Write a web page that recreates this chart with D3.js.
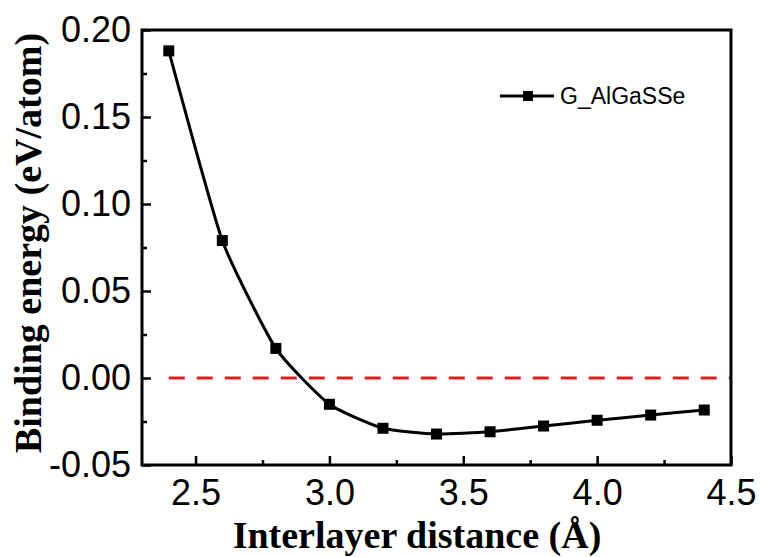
<!DOCTYPE html>
<html>
<head>
<meta charset="utf-8">
<script src="https://cdn.jsdelivr.net/npm/d3@7"></script>
<style>
html,body{margin:0;padding:0;background:#fff;}
svg{display:block;}
</style>
</head>
<body>
<svg id="chart" width="763" height="557"></svg>
<script>
const distances = [2.4, 2.6, 2.8, 3.0, 3.2, 3.4, 3.6, 3.8, 4.0, 4.2, 4.4];
const energies = [0.188, 0.079, 0.017, -0.0151, -0.0289, -0.0322, -0.0309, -0.0276, -0.0243, -0.0213, -0.0184];
const xTicks = [2.5, 3.0, 3.5, 4.0, 4.5];
const xMinorTicks = [2.75, 3.25, 3.75, 4.25];
const yTicks = [-0.05, 0.00, 0.05, 0.10, 0.15, 0.20];
const yMinorTicks = [-0.025, 0.025, 0.075, 0.125, 0.175];
const refLineX = [2.4, 4.5];
const refLineY = 0;
const seriesName = "G_AlGaSSe";
const xTitle = "Interlayer distance (Å)";
const yTitle = "Binding energy (eV/atom)";

const svg = d3.select("#chart");
const L = 142, R = 731, T = 30, B = 465;
const x = d3.scaleLinear().domain([2.3, 4.5]).range([L, R]);
const y = d3.scaleLinear().domain([-0.05, 0.20]).range([B, T]);

// reference dashed line
svg.append("line")
  .attr("x1", x(refLineX[0])).attr("x2", x(refLineX[1]))
  .attr("y1", y(refLineY)).attr("y2", y(refLineY))
  .attr("stroke", "#df1f1f").attr("stroke-width", 3)
  .attr("stroke-dasharray", "16,12");

// axes
const fmtX = d3.format(".1f");
const fmtY = v => d3.format(".2f")(v).replace("\u2212", "-");
svg.append("g").attr("transform", `translate(0,${B})`)
  .call(d3.axisBottom(x).tickValues(xTicks).tickFormat(fmtX).tickSizeInner(-9).tickSizeOuter(0).tickPadding(14));
svg.append("g").attr("transform", `translate(0,${B})`)
  .call(d3.axisBottom(x).tickValues(xMinorTicks).tickFormat("").tickSizeInner(-5).tickSizeOuter(0));
svg.append("g").attr("transform", `translate(${L},0)`)
  .call(d3.axisLeft(y).tickValues(yTicks).tickFormat(fmtY).tickSizeInner(-9).tickSizeOuter(0).tickPadding(11));
svg.append("g").attr("transform", `translate(${L},0)`)
  .call(d3.axisLeft(y).tickValues(yMinorTicks).tickFormat("").tickSizeInner(-5).tickSizeOuter(0));

svg.selectAll(".domain").remove();
svg.selectAll(".tick line").attr("stroke", "#000").attr("stroke-width", 2.5);
svg.selectAll(".tick text")
  .attr("font-family", "'Liberation Sans', Arial, sans-serif")
  .attr("font-size", 36).attr("fill", "#000");

// frame
svg.append("rect").attr("x", L).attr("y", T).attr("width", R - L).attr("height", B - T)
  .attr("fill", "none").attr("stroke", "#000").attr("stroke-width", 3);

// series line
const pts = distances.map((d, i) => [d, energies[i]]);
const line = d3.line().x(d => x(d[0])).y(d => y(d[1])).curve(d3.curveCardinal.tension(0.5));
svg.append("path").datum(pts).attr("d", line)
  .attr("fill", "none").attr("stroke", "#000").attr("stroke-width", 3);

const ms = 11;
svg.selectAll("rect.pt").data(pts).enter().append("rect").attr("class", "pt")
  .attr("x", d => x(d[0]) - ms / 2).attr("y", d => y(d[1]) - ms / 2)
  .attr("width", ms).attr("height", ms).attr("fill", "#000");

// legend
const lg = svg.append("g");
lg.append("line").attr("x1", 500).attr("x2", 554).attr("y1", 96).attr("y2", 96)
  .attr("stroke", "#000").attr("stroke-width", 3);
lg.append("rect").attr("x", 528 - 5).attr("y", 96 - 5).attr("width", 10).attr("height", 10).attr("fill", "#000");
lg.append("text").attr("x", 560).attr("y", 104)
  .attr("font-family", "'Liberation Sans', Arial, sans-serif").attr("font-size", 23)
  .text(seriesName);

// titles
svg.append("text").attr("x", 417).attr("y", 548).attr("text-anchor", "middle")
  .attr("font-family", "'Liberation Serif', 'Times New Roman', serif").attr("font-weight", "bold")
  .attr("font-size", 38).text(xTitle);
svg.append("text").attr("transform", "translate(41,243) rotate(-90)").attr("text-anchor", "middle")
  .attr("font-family", "'Liberation Serif', 'Times New Roman', serif").attr("font-weight", "bold")
  .attr("font-size", 38).text(yTitle);
</script>
</body>
</html>
